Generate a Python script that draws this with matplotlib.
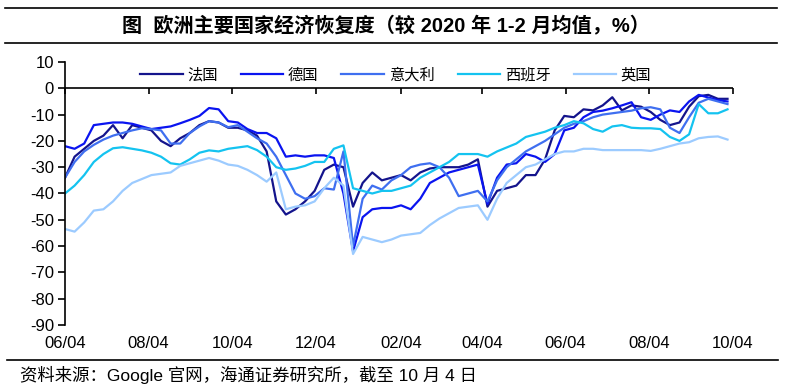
import numpy as np
import pandas as pd
import matplotlib
matplotlib.use("Agg")
import matplotlib.pyplot as plt
import matplotlib.dates as mdates

plt.rcParams['font.family'] = ['Liberation Sans', 'Noto Sans CJK SC', 'DejaVu Sans']
plt.rcParams['axes.unicode_minus'] = False

# weekly samples, 2020-06-04 .. 2021-09-30
dates = pd.date_range('2020-06-04', periods=70, freq='7D')

france = [-34, -26, -23, -20, -18, -14, -19, -14, -15, -16,
          -20, -22, -19, -17, -14, -12.5, -13, -15, -15, -16,
          -18, -24, -43, -48, -46, -43, -39, -31, -29, -30,
          -45, -36, -32, -35, -34, -33, -35, -32, -30.5, -30,
          -30, -30, -29, -27, -45, -39, -38, -37, -33, -33,
          -27, -16, -10.5, -11, -8, -8.4, -6.5, -3.4, -8.4, -6.5,
          -7, -9, -12, -14, -13, -7, -3, -2.5, -4, -4]
germany = [-22, -23, -21, -14, -13.5, -13, -13, -13.5, -14.5, -15.5,
           -15, -14.5, -13.3, -12, -10.5, -7.5, -8, -12.5, -13, -15.5,
           -17, -17, -19, -26, -25.5, -26, -25.5, -25.5, -26.5, -40,
           -62, -49, -46, -45.5, -45.5, -44.5, -46, -42, -36, -34,
           -32, -31, -30, -29, -44, -34, -29, -28.5, -25, -26,
           -28, -25, -16, -15, -11, -9, -8.5, -7.6, -6.5, -5.3,
           -11, -12, -10, -8.4, -9, -5, -2.5, -3.5, -4.5, -5]
italy = [-34, -28, -24, -21.5, -19.5, -18, -17, -16, -15.2, -15.5,
         -16, -21, -21, -17, -14.5, -12.5, -13, -14.8, -14, -16.5,
         -19, -21, -26, -33, -40, -42, -41, -38, -38.5, -24,
         -60, -42, -37, -38.5, -35, -33, -30, -29, -28.5, -30,
         -34, -41, -40, -39, -43, -35, -30, -27, -24, -22,
         -20, -17.5, -15, -13.5, -12.5, -11, -10, -9.5, -9, -8.5,
         -7.6, -7.2, -8, -15, -17, -11, -5.5, -4, -5, -6]
spain = [-40, -37, -33, -28, -25, -22.8, -22.4, -23, -23.6, -24.5,
         -26, -28.5, -29, -27, -24.5, -23.6, -24, -23, -22.5, -22,
         -23.5, -26, -30, -31, -30.5, -29.5, -28, -28, -23, -21.7,
         -38, -39, -40, -39, -39, -38, -37, -34, -32, -30,
         -28, -25, -25, -25, -26, -24, -22.5, -21, -18.5, -17.5,
         -16.5, -15, -14, -12.5, -13.3, -15.5, -16.5, -14.5, -14, -15,
         -15.2, -15.2, -15.5, -18.5, -20, -17.5, -6, -9.5, -9.5, -8]
uk = [-53.5, -54.5, -51, -46.5, -46, -43, -39, -36, -34.5, -33,
      -32.5, -32, -29.5, -28.5, -27.5, -26.5, -27.5, -29, -29.5, -31,
      -33, -35.5, -32, -46, -45, -44.5, -43, -38, -34, -37,
      -63, -56.5, -57.5, -58.5, -57.5, -56, -55.5, -55, -52, -49.5,
      -47.5, -45.5, -45, -44.5, -50, -42, -36, -33, -30, -29,
      -27, -25, -24, -24, -23, -23, -23.5, -23.5, -23.5, -23.5,
      -23.5, -23.8, -23, -22, -21, -20.5, -19, -18.5, -18.3, -19.5]

series = [("法国", france, "#14148c"),
          ("德国", germany, "#0a14f0"),
          ("意大利", italy, "#3f6ff0"),
          ("西班牙", spain, "#14c3f0"),
          ("英国", uk, "#9ccbff")]

tick_dates = pd.to_datetime(['2020-06-04', '2020-08-04', '2020-10-04', '2020-12-04',
                             '2021-02-04', '2021-04-04', '2021-06-04', '2021-08-04',
                             '2021-10-04'])

fig = plt.figure(figsize=(7.94, 3.91), dpi=100)
ax = fig.add_axes([65 / 794, 1 - 325 / 391, 668 / 794, 263 / 391])

for name, vals, col in series:
    ax.plot(dates, vals, color=col, lw=1.6, label=name)

ax.set_ylim(-90, 10)
ax.set_yticks(np.arange(-90, 11, 10))
ax.set_xlim(tick_dates[0], tick_dates[-1])
ax.set_xticks(tick_dates)
ax.xaxis.set_major_formatter(mdates.DateFormatter('%m/%d'))
ax.tick_params(axis='x', length=0, pad=8, labelsize=12)
ax.tick_params(axis='y', length=5, width=1.2, labelsize=12, pad=3)
for s in ['top', 'right', 'bottom']:
    ax.spines[s].set_visible(False)
ax.spines['left'].set_linewidth(1.2)

# x axis line sits on zero, short ticks hanging down from it
ax.axhline(0, color='black', lw=1.2, zorder=3)
ax.vlines(tick_dates, -2, 0, color='black', lw=1.2, zorder=3, clip_on=False)

ax.legend(loc='upper center', bbox_to_anchor=(0.495, 1.035), ncol=5,
          frameon=False, handlelength=2.8, handletextpad=0.3,
          columnspacing=1.5, prop={'family': ['Noto Sans CJK SC'], 'size': 11})

# title band and footer
fig.add_artist(plt.Line2D([5 / 794, 777 / 794], [1 - 8 / 391] * 2, color='black', lw=1.2))
fig.add_artist(plt.Line2D([5 / 794, 777 / 794], [1 - 43 / 391] * 2, color='black', lw=1.2))
fig.text(386 / 794, 1 - 25 / 391, "图  欧洲主要国家经济恢复度（较 2020 年 1-2 月均值，%）",
         ha='center', va='center', fontsize=14.5, fontweight='bold',
         family=['Liberation Sans', 'Noto Sans CJK SC'])
fig.add_artist(plt.Line2D([7 / 794, 778 / 794], [1 - 360 / 391] * 2, color='black', lw=1.2))
fig.text(20 / 794, 1 - 375 / 391, "资料来源：Google 官网，海通证券研究所，截至 10 月 4 日",
         ha='left', va='center', fontsize=12.5,
         family=['Liberation Sans', 'Noto Sans CJK SC'])

fig.savefig('out.png', dpi=100)
